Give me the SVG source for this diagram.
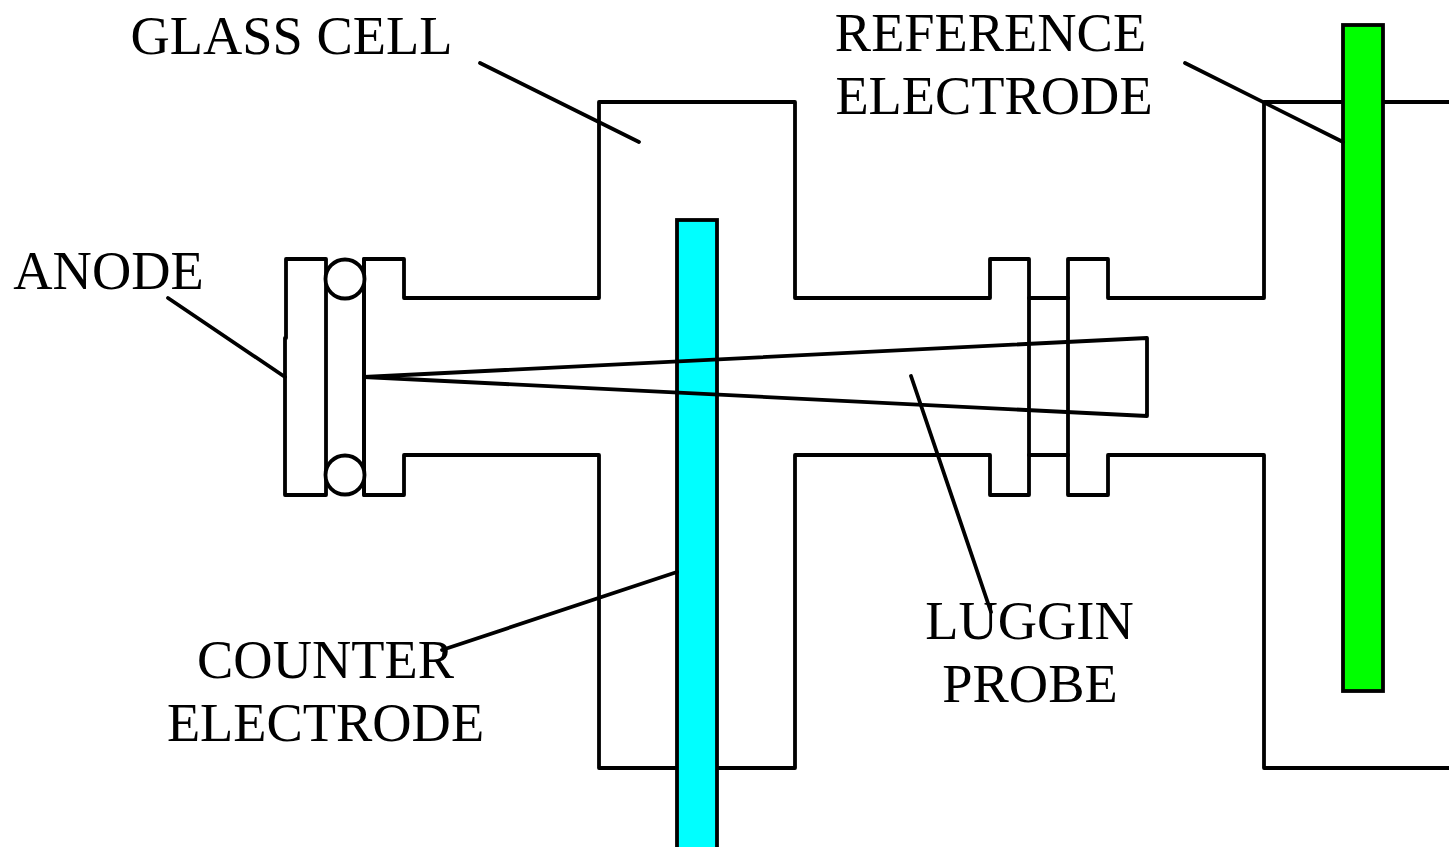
<svg xmlns="http://www.w3.org/2000/svg" width="1449" height="847" viewBox="0 0 1449 847">
<style>
.l{fill:none;stroke:#000;stroke-width:3.800;stroke-linejoin:round;stroke-linecap:round}
.e{stroke:#000;stroke-width:3.800}
.t{font-family:"Liberation Serif","Times New Roman",serif;font-size:54.400px;fill:#000;text-anchor:middle}
</style>
<rect width="1449" height="847" fill="#fff"/>
<g id="glass-cell"><path class="l" d="M404 298H599V102H795V298H990V259H1029V495H990V455H795V768H599V455H404V495H364V259H404Z"/>
<path class="l" d="M1029 298H1068M1029 455H1068"/>
<path class="l" d="M1449 102H1264V298H1108V259H1068V495H1108V455H1264V768H1449"/></g>
<g id="anode"><path class="l" d="M286 338V259H326V495H285V338"/><path class="l" d="M364 259V495"/>
<circle cx="345" cy="279" r="19.500" fill="#fff" class="e"/><circle cx="345" cy="475" r="19.500" fill="#fff" class="e"/></g>
<g id="counter-electrode"><rect x="677" y="220" width="40" height="640" fill="#0ff" class="e"/></g>
<g id="reference-electrode"><rect x="1343" y="25" width="40" height="666" fill="#0f0" class="e"/></g>
<g id="luggin-probe"><path class="l" d="M364 377L1147 338V416Z"/></g>
<g id="connectors"><path class="l" d="M480 63L639 142M1185 63L1343 142M168 298L285 377M442 650L677 572M911 376L991 612"/></g>
<g id="labels"><text class="t" x="291.500" y="54">GLASS CELL</text><text class="t" x="990.500" y="51">REFERENCE</text><text class="t" x="994" y="114">ELECTRODE</text><text class="t" x="108.500" y="289">ANODE</text><text class="t" x="325.500" y="678">COUNTER</text><text class="t" x="325.500" y="741">ELECTRODE</text><text class="t" x="1029.500" y="639">LUGGIN</text><text class="t" x="1030" y="702">PROBE</text></g>
</svg>
